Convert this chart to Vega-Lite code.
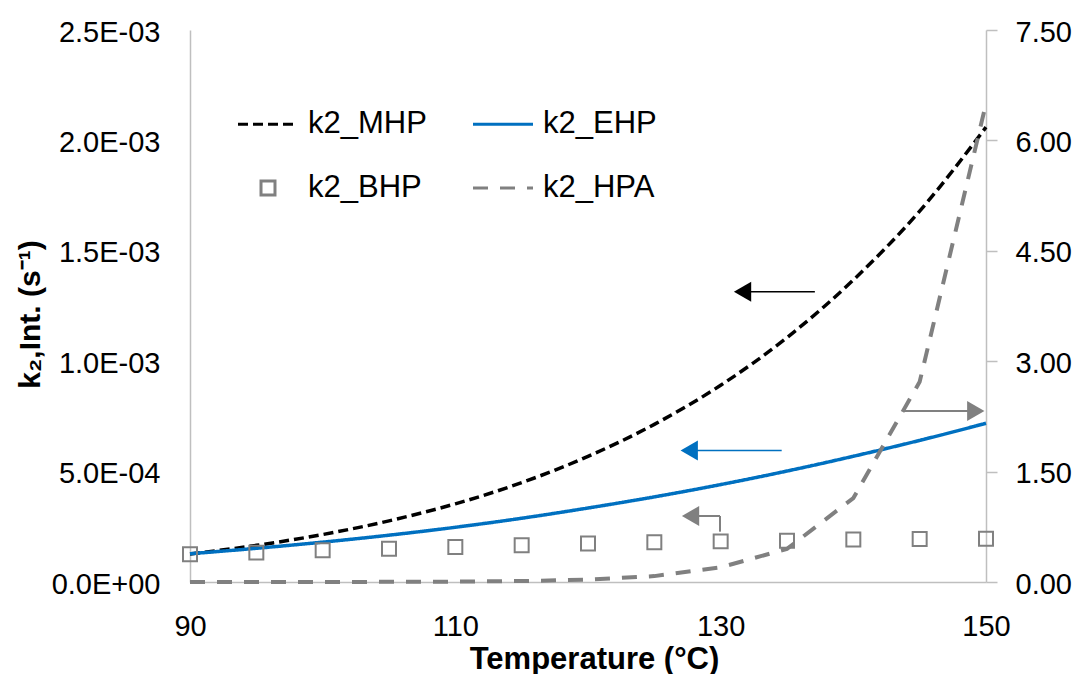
{
  "$schema": "https://vega.github.io/schema/vega-lite/v6.json",
  "width": 796,
  "height": 552,
  "autosize": {"type": "none"},
  "padding": {"left": 190, "top": 30, "right": 95, "bottom": 92},
  "background": "white",
  "config": {
    "view": {"stroke": null},
    "font": "Liberation Sans",
    "axis": {"grid": false, "domainColor": "#BFBFBF", "domainWidth": 1.5, "labelFont": "Liberation Sans", "labelFontSize": 29, "labelColor": "#000000", "titleColor": "#000000", "titleFont": "Liberation Sans", "tickColor": "#BFBFBF", "tickWidth": 1.5},
    "legend": {"orient": "none", "legendX": 46.5, "legendY": 62.5, "columns": 2, "columnPadding": 39, "rowPadding": 17, "padding": 0, "symbolSize": 3600, "symbolStrokeWidth": 3, "labelFont": "Liberation Sans", "labelFontSize": 31, "labelColor": "#000000", "labelOffset": 8.5, "symbolOpacity": 1, "labelLimit": 400, "symbolFillColor": "transparent"}
  },
  "datasets": {
    "curves": [
      {"T": 90, "series": "k2_MHP", "k": 0.000127},
      {"T": 95, "series": "k2_MHP", "k": 0.000166},
      {"T": 100, "series": "k2_MHP", "k": 0.000215},
      {"T": 105, "series": "k2_MHP", "k": 0.000277},
      {"T": 110, "series": "k2_MHP", "k": 0.000354},
      {"T": 115, "series": "k2_MHP", "k": 0.000450},
      {"T": 120, "series": "k2_MHP", "k": 0.000569},
      {"T": 125, "series": "k2_MHP", "k": 0.000714},
      {"T": 130, "series": "k2_MHP", "k": 0.000891},
      {"T": 135, "series": "k2_MHP", "k": 0.001107},
      {"T": 140, "series": "k2_MHP", "k": 0.001368},
      {"T": 145, "series": "k2_MHP", "k": 0.001680},
      {"T": 150, "series": "k2_MHP", "k": 0.002060},
      {"T": 90, "series": "k2_EHP", "k": 0.000128},
      {"T": 95, "series": "k2_EHP", "k": 0.0001526},
      {"T": 100, "series": "k2_EHP", "k": 0.0001805},
      {"T": 105, "series": "k2_EHP", "k": 0.000212},
      {"T": 110, "series": "k2_EHP", "k": 0.0002478},
      {"T": 115, "series": "k2_EHP", "k": 0.0002887},
      {"T": 120, "series": "k2_EHP", "k": 0.0003351},
      {"T": 125, "series": "k2_EHP", "k": 0.0003855},
      {"T": 130, "series": "k2_EHP", "k": 0.0004412},
      {"T": 135, "series": "k2_EHP", "k": 0.0005025},
      {"T": 140, "series": "k2_EHP", "k": 0.0005694},
      {"T": 145, "series": "k2_EHP", "k": 0.0006413},
      {"T": 150, "series": "k2_EHP", "k": 0.0007188}
    ],
    "bhp": [
      {"T": 90, "series": "k2_BHP", "k": 0.0001254},
      {"T": 95, "series": "k2_BHP", "k": 0.000133},
      {"T": 100, "series": "k2_BHP", "k": 0.000144},
      {"T": 105, "series": "k2_BHP", "k": 0.000151},
      {"T": 110, "series": "k2_BHP", "k": 0.0001585},
      {"T": 115, "series": "k2_BHP", "k": 0.000166},
      {"T": 120, "series": "k2_BHP", "k": 0.000174},
      {"T": 125, "series": "k2_BHP", "k": 0.000180},
      {"T": 130, "series": "k2_BHP", "k": 0.000184},
      {"T": 135, "series": "k2_BHP", "k": 0.000187},
      {"T": 140, "series": "k2_BHP", "k": 0.000193},
      {"T": 145, "series": "k2_BHP", "k": 0.000195},
      {"T": 150, "series": "k2_BHP", "k": 0.000196}
    ],
    "hpa": [
      {"T": 90, "series": "k2_HPA", "v": 0.0001},
      {"T": 95, "series": "k2_HPA", "v": 0.0003},
      {"T": 100, "series": "k2_HPA", "v": 0.0008},
      {"T": 105, "series": "k2_HPA", "v": 0.002},
      {"T": 110, "series": "k2_HPA", "v": 0.005},
      {"T": 115, "series": "k2_HPA", "v": 0.013},
      {"T": 120, "series": "k2_HPA", "v": 0.032},
      {"T": 125, "series": "k2_HPA", "v": 0.08},
      {"T": 130, "series": "k2_HPA", "v": 0.2},
      {"T": 135, "series": "k2_HPA", "v": 0.45},
      {"T": 140, "series": "k2_HPA", "v": 1.14},
      {"T": 145, "series": "k2_HPA", "v": 2.72},
      {"T": 150, "series": "k2_HPA", "v": 6.5}
    ]
  },
  "layer": [
    {
      "layer": [
        {
          "data": {"name": "curves"},
          "mark": {"type": "line", "strokeWidth": 3.5, "interpolate": "monotone"},
          "encoding": {
            "x": {"field": "T", "type": "quantitative", "scale": {"domain": [90, 150], "nice": false, "zero": false},
              "axis": {"values": [90, 110, 130, 150], "ticks": false, "tickSize": 0, "labelPadding": 30, "labelFlush": false, "title": "Temperature (°C)", "titleFontSize": 31, "titleFontWeight": "bold", "titleX": 404, "titleY": 77, "titleBaseline": "middle", "titleAlign": "center"}},
            "y": {"field": "k", "type": "quantitative", "scale": {"domain": [0, 0.0025], "nice": false},
              "axis": {"values": [0, 0.0005, 0.001, 0.0015, 0.002, 0.0025], "labelExpr": "datum.value == 0 ? '0.0E+00' : (datum.value < 0.00099 ? format(datum.value*10000, '.1f') + 'E-04' : format(datum.value*1000, '.1f') + 'E-03')", "ticks": false, "tickSize": 0, "labelPadding": 30, "labelOffset": 2, "title": "k₂,Int. (s⁻¹)", "titleFontSize": 30, "titleFontWeight": "bold", "titleX": -145, "titleY": 284, "titleAngle": -90, "titleAlign": "center", "titleBaseline": "bottom"}},
            "color": {"field": "series", "type": "nominal", "title": null, "scale": {"domain": ["k2_MHP", "k2_BHP", "k2_EHP", "k2_HPA"], "range": ["#000000", "#808080", "#0070C0", "#808080"]}},
            "strokeDash": {"field": "series", "type": "nominal", "title": null, "scale": {"domain": ["k2_MHP", "k2_BHP", "k2_EHP", "k2_HPA"], "range": [[10, 5], [1, 0], [1, 0], [15, 12]]}}
          }
        },
        {
          "data": {"name": "bhp"},
          "mark": {"type": "point", "filled": false, "strokeWidth": 2, "size": 3600, "opacity": 1},
          "encoding": {
            "x": {"field": "T", "type": "quantitative"},
            "y": {"field": "k", "type": "quantitative"},
            "color": {"field": "series", "type": "nominal", "title": null, "scale": {"domain": ["k2_MHP", "k2_BHP", "k2_EHP", "k2_HPA"], "range": ["#000000", "#808080", "#0070C0", "#808080"]}},
            "shape": {"field": "series", "type": "nominal", "title": null, "scale": {"domain": ["k2_MHP", "k2_BHP", "k2_EHP", "k2_HPA"], "range": ["M-1,0H1", "M-0.233,-0.233H0.233V0.233H-0.233Z", "M-1,0H1", "M-1,0H1"]}}
          }
        },
        {
          "data": {"values": [{"T": 137.1, "T2": 131.65, "k": 0.001315, "k2": 0.001315}]},
          "mark": {"type": "rule", "color": "#000000", "strokeWidth": 1.5},
          "encoding": {
            "x": {"field": "T", "type": "quantitative"},
            "x2": {"field": "T2"},
            "y": {"field": "k", "type": "quantitative"},
            "y2": {"field": "k2"}
          }
        },
        {
          "data": {"values": [{"T": 131.65, "k": 0.001315}]},
          "mark": {"type": "point", "shape": "triangle-left", "filled": true, "color": "#000000", "size": 400, "opacity": 1},
          "encoding": {
            "x": {"field": "T", "type": "quantitative"},
            "y": {"field": "k", "type": "quantitative"}
          }
        },
        {
          "data": {"values": [{"T": 134.6, "T2": 127.63, "k": 0.000595, "k2": 0.000595}]},
          "mark": {"type": "rule", "color": "#0070C0", "strokeWidth": 1.5},
          "encoding": {
            "x": {"field": "T", "type": "quantitative"},
            "x2": {"field": "T2"},
            "y": {"field": "k", "type": "quantitative"},
            "y2": {"field": "k2"}
          }
        },
        {
          "data": {"values": [{"T": 127.63, "k": 0.000595}]},
          "mark": {"type": "point", "shape": "triangle-left", "filled": true, "color": "#0070C0", "size": 400, "opacity": 1},
          "encoding": {
            "x": {"field": "T", "type": "quantitative"},
            "y": {"field": "k", "type": "quantitative"}
          }
        },
        {
          "data": {"values": [
            {"T": 129.95, "T2": 129.95, "k": 0.000228, "k2": 0.000299},
            {"T": 129.95, "T2": 127.73, "k": 0.000299, "k2": 0.000299},
            {"T": 143.8, "T2": 149.23, "k": 0.000774, "k2": 0.000774}
          ]},
          "mark": {"type": "rule", "color": "#808080", "strokeWidth": 2},
          "encoding": {
            "x": {"field": "T", "type": "quantitative"},
            "x2": {"field": "T2"},
            "y": {"field": "k", "type": "quantitative"},
            "y2": {"field": "k2"}
          }
        },
        {
          "data": {"values": [{"T": 127.73, "k": 0.000299}]},
          "mark": {"type": "point", "shape": "triangle-left", "filled": true, "color": "#808080", "size": 400, "opacity": 1},
          "encoding": {
            "x": {"field": "T", "type": "quantitative"},
            "y": {"field": "k", "type": "quantitative"}
          }
        },
        {
          "data": {"values": [{"T": 149.23, "k": 0.000774}]},
          "mark": {"type": "point", "shape": "triangle-right", "filled": true, "color": "#808080", "size": 400, "opacity": 1},
          "encoding": {
            "x": {"field": "T", "type": "quantitative"},
            "y": {"field": "k", "type": "quantitative"}
          }
        }
      ]
    },
    {
      "layer": [
        {
          "data": {"name": "hpa"},
          "mark": {"type": "line", "strokeWidth": 4},
          "encoding": {
            "x": {"field": "T", "type": "quantitative"},
            "y": {"field": "v", "type": "quantitative", "scale": {"domain": [0, 7.5], "nice": false},
              "axis": {"orient": "right", "values": [0, 1.5, 3, 4.5, 6, 7.5], "format": ".2f", "ticks": true, "tickSize": 11, "labelPadding": 18, "labelOffset": 2, "title": null}},
            "color": {"field": "series", "type": "nominal", "title": null, "scale": {"domain": ["k2_MHP", "k2_BHP", "k2_EHP", "k2_HPA"], "range": ["#000000", "#808080", "#0070C0", "#808080"]}},
            "strokeDash": {"field": "series", "type": "nominal", "title": null, "scale": {"domain": ["k2_MHP", "k2_BHP", "k2_EHP", "k2_HPA"], "range": [[10, 5], [1, 0], [1, 0], [15, 12]]}}
          }
        }
      ]
    }
  ],
  "resolve": {"scale": {"y": "independent"}}
}
